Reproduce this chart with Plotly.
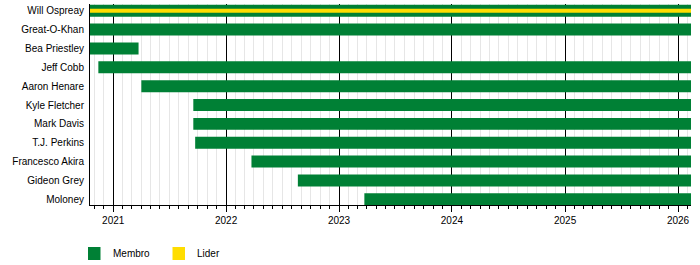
import plotly.graph_objects as go
import pandas as pd

# ---- data ----
period_start = "2020-10-18"
period_end = "2026-02-12"

members = ["Will Ospreay", "Great-O-Khan", "Bea Priestley", "Jeff Cobb", "Aaron Henare",
           "Kyle Fletcher", "Mark Davis", "T.J. Perkins", "Francesco Akira", "Gideon Grey", "Moloney"]
member_start = ["2020-10-18", "2020-10-18", "2020-10-18", "2020-11-14", "2021-04-02",
                "2021-09-17", "2021-09-17", "2021-09-23", "2022-03-24", "2022-08-21", "2023-03-24"]
member_end = ["2026-02-12", "2026-02-12", "2021-03-24", "2026-02-12", "2026-02-12",
              "2026-02-12", "2026-02-12", "2026-02-12", "2026-02-12", "2026-02-12", "2026-02-12"]

leaders = ["Will Ospreay"]
leader_start = ["2020-10-18"]
leader_end = ["2026-02-12"]

legend_names = ["Membro", "Lider"]
legend_colors = ["#008035", "#FFDD00"]

GREEN, YELLOW = legend_colors


def dur_ms(s, e):
    return [(pd.Timestamp(b) - pd.Timestamp(a)).total_seconds() * 1000 for a, b in zip(s, e)]


fig = go.Figure()
fig.add_trace(go.Bar(
    y=members, x=dur_ms(member_start, member_end), base=member_start,
    orientation="h", width=0.635, marker=dict(color=GREEN, line=dict(width=0)),
    name=legend_names[0], showlegend=False, hoverinfo="skip"))
fig.add_trace(go.Bar(
    y=leaders, x=dur_ms(leader_start, leader_end), base=leader_start,
    orientation="h", width=0.21, marker=dict(color=YELLOW, line=dict(width=0)),
    name=legend_names[1], showlegend=False, hoverinfo="skip"))

font = "Liberation Sans, Arial, sans-serif"

fig.update_layout(
    width=700, height=265,
    margin=dict(l=90, r=9, t=4, b=60),
    paper_bgcolor="white", plot_bgcolor="white",
    barmode="overlay",
    font=dict(family=font, size=10, color="black"),
    showlegend=False,
    xaxis=dict(
        type="date", range=[period_start, period_end],
        tick0="2021-01-01", dtick="M12", tickformat="%Y",
        showgrid=True, gridcolor="black", gridwidth=1,
        showline=True, linecolor="black", linewidth=1,
        ticks="outside", ticklen=6, tickcolor="black", tickwidth=1,
        tickfont=dict(size=10, color="black"),
        zeroline=False,
        minor=dict(dtick="M1", tick0="2021-01-01", showgrid=True, gridcolor="#e6e6e6",
                   gridwidth=1, ticks="outside", ticklen=3, tickcolor="black"),
    ),
    yaxis=dict(
        type="category", categoryorder="array", categoryarray=members,
        range=[10.3, -0.354],
        showgrid=False, zeroline=False,
        showline=True, linecolor="black", linewidth=1,
        ticks="", ticklabelstandoff=3,
        tickfont=dict(size=10, color="black"),
    ),
)

# legend drawn as shapes + real text annotations (pixel positions -> paper coords)
pw, ph = 601, 201
def px(X):
    return (X - 90) / pw
def py(Y):
    return (205 - Y) / ph

leg_x = [88, 172.5]
for i, (nm, col) in enumerate(zip(legend_names, legend_colors)):
    x0 = leg_x[i]
    fig.add_shape(type="rect", xref="paper", yref="paper",
                  x0=px(x0), x1=px(x0 + 12.5), y0=py(260), y1=py(247),
                  fillcolor=col, line=dict(width=0))
    fig.add_annotation(xref="paper", yref="paper", x=px(x0 + 22.5), y=py(254),
                       text=nm, showarrow=False, xanchor="left", yanchor="middle",
                       font=dict(family=font, size=10, color="black"))

fig.write_html("out.html")
